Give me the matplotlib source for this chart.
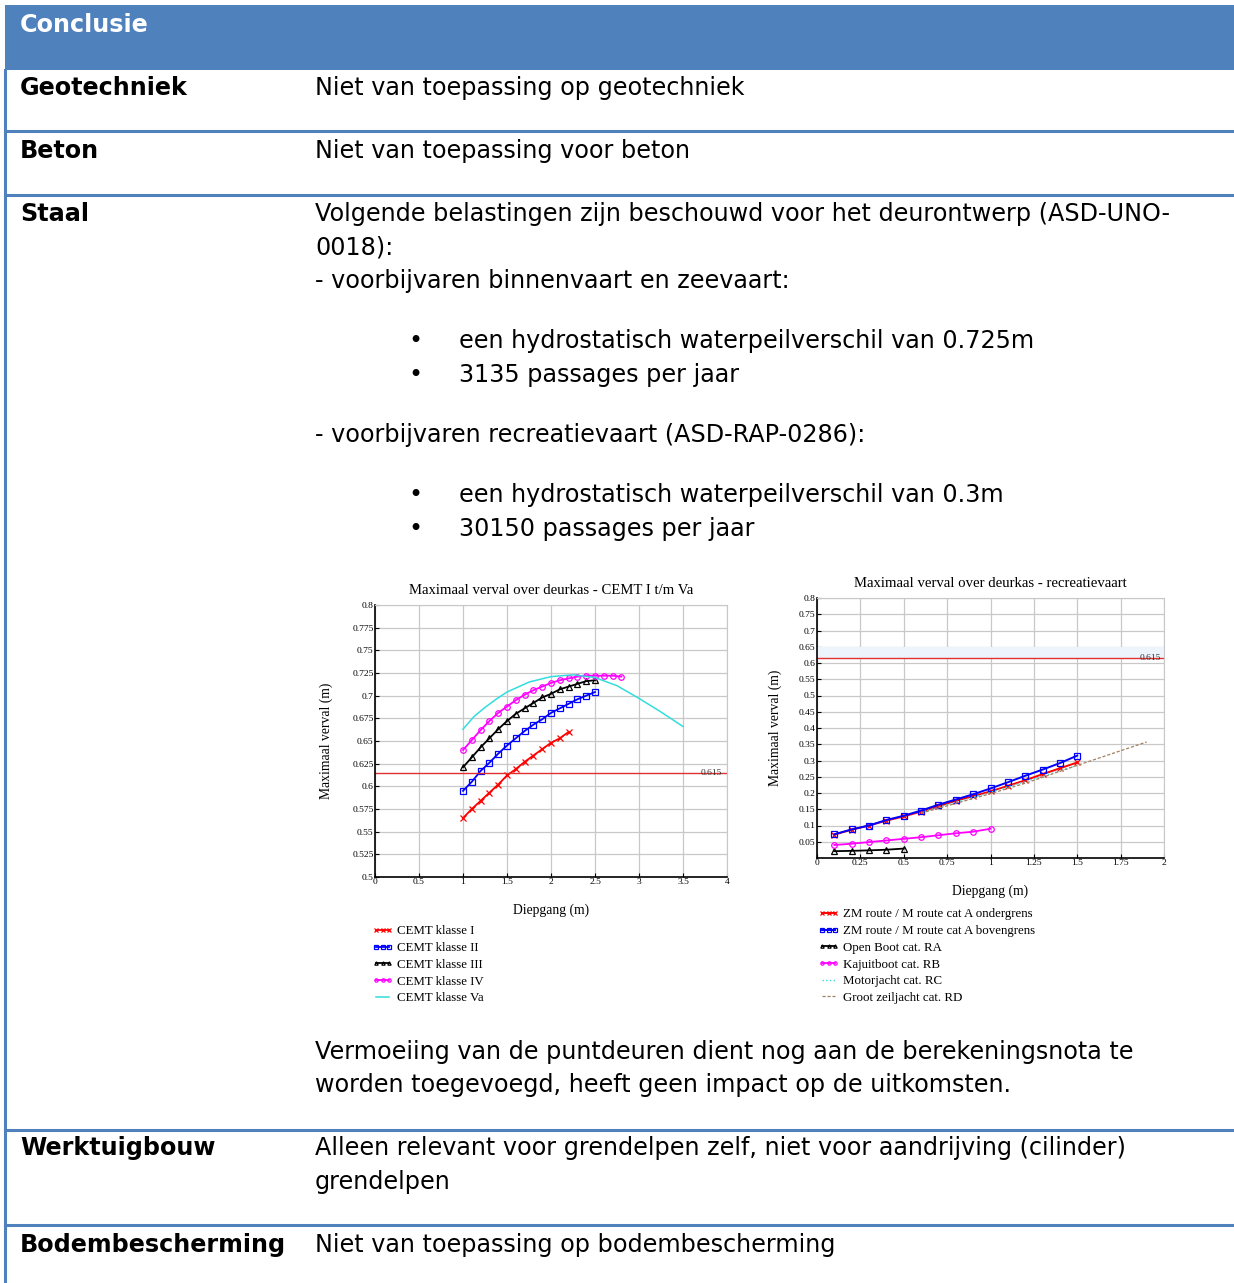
import matplotlib.pyplot as plt
import matplotlib.patches as mpatches

W, H = 1234, 1283
BLUE = '#4F81BD'

# --- left chart: CEMT classes (diepgang in m, verval in m)
cemt_x1 = [1.0, 1.1, 1.2, 1.3, 1.4, 1.5, 1.6, 1.7, 1.8, 1.9, 2.0, 2.1, 2.2]
cemt_y1 = [0.565, 0.575, 0.584, 0.593, 0.602, 0.612, 0.619, 0.627, 0.634, 0.641, 0.648, 0.653, 0.660]
cemt_x2 = [1.0, 1.1, 1.2, 1.3, 1.4, 1.5, 1.6, 1.7, 1.8, 1.9, 2.0, 2.1, 2.2, 2.3, 2.4, 2.5]
cemt_y2 = [0.595, 0.605, 0.617, 0.626, 0.636, 0.645, 0.653, 0.661, 0.668, 0.674, 0.681, 0.686, 0.691, 0.696, 0.700, 0.704]
cemt_x3 = [1.0, 1.1, 1.2, 1.3, 1.4, 1.5, 1.6, 1.7, 1.8, 1.9, 2.0, 2.1, 2.2, 2.3, 2.4, 2.5]
cemt_y3 = [0.621, 0.632, 0.643, 0.653, 0.663, 0.672, 0.680, 0.686, 0.692, 0.698, 0.702, 0.707, 0.710, 0.713, 0.716, 0.717]
cemt_x4 = [1.0, 1.1, 1.2, 1.3, 1.4, 1.5, 1.6, 1.7, 1.8, 1.9, 2.0, 2.1, 2.2, 2.3, 2.4, 2.5, 2.6, 2.7, 2.8]
cemt_y4 = [0.640, 0.651, 0.662, 0.672, 0.681, 0.688, 0.695, 0.701, 0.706, 0.710, 0.714, 0.717, 0.719, 0.721,
           0.722, 0.722, 0.722, 0.722, 0.721]
cemt_x5 = [1.0, 1.125, 1.25, 1.375, 1.5, 1.75, 2.0, 2.25, 2.5, 2.75, 3.0, 3.25, 3.5]
cemt_y5 = [0.663, 0.677, 0.687, 0.696, 0.704, 0.715, 0.721, 0.723, 0.720, 0.711, 0.697, 0.682, 0.666]
cemt_labels = ['CEMT klasse I', 'CEMT klasse II', 'CEMT klasse III', 'CEMT klasse IV', 'CEMT klasse Va']

# --- right chart: recreatievaart
rec_xa = [0.1, 0.2, 0.3, 0.4, 0.5, 0.6, 0.7, 0.8, 0.9, 1.0, 1.1, 1.2, 1.3, 1.4, 1.5]
rec_ya_low = [0.072, 0.087, 0.100, 0.115, 0.128, 0.143, 0.159, 0.176, 0.190, 0.205, 0.222, 0.239, 0.258, 0.276, 0.294]
rec_ya_high = [0.073, 0.088, 0.100, 0.117, 0.130, 0.146, 0.164, 0.180, 0.196, 0.214, 0.233, 0.253, 0.272, 0.292, 0.315]
rec_x_ra = [0.1, 0.2, 0.3, 0.4, 0.5]
rec_y_ra = [0.021, 0.022, 0.0235, 0.0255, 0.029]
rec_x_rb = [0.1, 0.2, 0.3, 0.4, 0.5, 0.6, 0.7, 0.8, 0.9, 1.0]
rec_y_rb = [0.040, 0.044, 0.049, 0.054, 0.059, 0.064, 0.070, 0.076, 0.081, 0.090]
rec_x_rc = [0.6, 0.8, 1.0, 1.2, 1.4, 1.5]
rec_y_rc = [0.140, 0.172, 0.202, 0.235, 0.268, 0.285]
rec_x_rd = [0.6, 0.8, 1.0, 1.2, 1.5, 1.9]
rec_y_rd = [0.138, 0.168, 0.198, 0.230, 0.285, 0.357]
rec_labels = ['ZM route / M route cat A ondergrens', 'ZM route / M route cat A bovengrens',
              'Open Boot cat. RA', 'Kajuitboot cat. RB', 'Motorjacht cat. RC', 'Groot zeiljacht cat. RD']
limit = 0.615

# --- table text
rows = [('Geotechniek', 86), ('Beton', 149), ('Staal', 212), ('Werktuigbouw', 1146), ('Bodembescherming', 1243)]
body = [
    ('Niet van toepassing op geotechniek', 315, 86),
    ('Niet van toepassing voor beton', 315, 149),
    ('Volgende belastingen zijn beschouwd voor het deurontwerp (ASD-UNO-', 315, 212),
    ('0018):', 315, 245),
    ('- voorbijvaren binnenvaart en zeevaart:', 315, 279),
    ('een hydrostatisch waterpeilverschil van 0.725m', 459, 339),
    ('3135 passages per jaar', 459, 373),
    ('- voorbijvaren recreatievaart (ASD-RAP-0286):', 315, 433),
    ('een hydrostatisch waterpeilverschil van 0.3m', 459, 493),
    ('30150 passages per jaar', 459, 527),
    ('Vermoeiing van de puntdeuren dient nog aan de berekeningsnota te', 315, 1050),
    ('worden toegevoegd, heeft geen impact op de uitkomsten.', 315, 1083),
    ('Alleen relevant voor grendelpen zelf, niet voor aandrijving (cilinder)', 315, 1146),
    ('grendelpen', 315, 1180),
    ('Niet van toepassing op bodembescherming', 315, 1243),
]
bullets_y = [339, 373, 493, 527]
hlines_y = [131, 195, 1130, 1225]


def fx(x):
    return x / W


def fy(y):
    return 1 - y / H


def px_axes(fig, x0, y0, x1, y1):
    return fig.add_axes([fx(x0), fy(y1), (x1 - x0) / W, (y1 - y0) / H])


def style_axes(ax):
    ax.grid(True, color='#c8c8c8', linewidth=0.9)
    ax.set_axisbelow(True)
    for side in ['top', 'right']:
        ax.spines[side].set_color('#c8c8c8')
    for side in ['left', 'bottom']:
        ax.spines[side].set_linewidth(1.2)
    ax.tick_params(direction='in', length=3, labelsize=6.8, pad=1)
    for lab in ax.get_xticklabels() + ax.get_yticklabels():
        lab.set_family('Liberation Serif')


plt.rcParams['font.family'] = 'DejaVu Sans'
fig = plt.figure(figsize=(W / 100, H / 100), dpi=100)
FS = 17.2
DY = 2  # small downward nudge of the text baseline

# table frame
fig.patches.append(mpatches.Rectangle((fx(5), fy(70)), 1, 65 / H, transform=fig.transFigure,
                                      facecolor=BLUE, edgecolor='none'))
fig.lines.append(plt.Line2D([fx(5), fx(5)], [fy(70), 0], transform=fig.transFigure, color=BLUE, lw=2.2))
for y in hlines_y:
    fig.lines.append(plt.Line2D([fx(5), 1], [fy(y), fy(y)], transform=fig.transFigure, color=BLUE, lw=2.2))

fig.text(fx(20), fy(23 + DY), 'Conclusie', color='white', fontsize=FS, fontweight='bold', va='center')
for label, y in rows:
    fig.text(fx(20), fy(y + DY), label, fontsize=FS, fontweight='bold', va='center')
for s, x, y in body:
    fig.text(fx(x), fy(y + DY), s, fontsize=FS, va='center')
for y in bullets_y:
    fig.text(fx(415), fy(y + DY), '\u2022', fontsize=FS, va='center', ha='center')

serif = 'Liberation Serif'

# left chart
ax1 = px_axes(fig, 375, 605, 727, 877)
ax1.plot(cemt_x1, cemt_y1, '-x', color='red', ms=4.5, mew=0.9, lw=1.3, label=cemt_labels[0])
ax1.plot(cemt_x2, cemt_y2, '-s', color='blue', ms=4, mfc='none', mew=0.9, lw=1.3, label=cemt_labels[1])
ax1.plot(cemt_x3, cemt_y3, '-^', color='black', ms=4, mfc='none', mew=0.9, lw=1.3, label=cemt_labels[2])
ax1.plot(cemt_x4, cemt_y4, '-o', color='magenta', ms=4, mfc='none', mew=0.9, lw=1.3, label=cemt_labels[3])
ax1.plot(cemt_x5, cemt_y5, '-', color='#33dddd', lw=1.1, label=cemt_labels[4])
ax1.axhline(limit, color='#e03030', lw=1.0)
ax1.text(3.94, limit, '0.615', fontsize=6.8, family=serif, ha='right', va='center', color='#333333')
ax1.set_xlim(0, 4)
ax1.set_ylim(0.5, 0.8)
ax1.set_xticks([0, 0.5, 1, 1.5, 2, 2.5, 3, 3.5, 4])
ax1.set_xticklabels(['0', '0.5', '1', '1.5', '2', '2.5', '3', '3.5', '4'])
ax1.set_yticks([0.5 + 0.025 * i for i in range(13)])
ax1.set_yticklabels(['0.5', '0.525', '0.55', '0.575', '0.6', '0.625', '0.65', '0.675', '0.7', '0.725',
                     '0.75', '0.775', '0.8'])
style_axes(ax1)
ax1.set_title('Maximaal verval over deurkas - CEMT I t/m Va', fontsize=10.6, family=serif, pad=8)
ax1.set_xlabel('Diepgang (m)', fontsize=9.8, family=serif, labelpad=12)
ax1.set_ylabel('Maximaal verval (m)', fontsize=9.8, family=serif, labelpad=14)
ax1.legend(loc='upper left', bbox_to_anchor=(fx(366), fy(919)), bbox_transform=fig.transFigure,
           frameon=False, prop={'family': serif, 'size': 9.3}, numpoints=3, markerscale=0.6,
           handlelength=1.6, handletextpad=0.3, labelspacing=0.36, borderpad=0)

# right chart
ax2 = px_axes(fig, 817, 598, 1164, 858)
ax2.axhspan(0.615, 0.65, color='#eef4fb', lw=0)
ax2.plot(rec_xa, rec_ya_low, '-x', color='red', ms=4, mew=0.9, lw=1.4, label=rec_labels[0])
ax2.plot(rec_xa, rec_ya_high, '-s', color='blue', ms=4, mfc='none', mew=0.9, lw=1.4, label=rec_labels[1])
ax2.plot(rec_x_ra, rec_y_ra, '-^', color='black', ms=4, mfc='none', mew=0.9, lw=1.3, label=rec_labels[2])
ax2.plot(rec_x_rb, rec_y_rb, '-o', color='magenta', ms=4, mfc='none', mew=0.9, lw=1.3, label=rec_labels[3])
ax2.plot(rec_x_rc, rec_y_rc, ':', color='#33dddd', lw=1.0, label=rec_labels[4])
ax2.plot(rec_x_rd, rec_y_rd, '--', color='#a08060', lw=0.9, dashes=(2.5, 1.5), label=rec_labels[5])
ax2.axhline(limit, color='#e03030', lw=1.0)
ax2.text(1.98, limit, '0.615', fontsize=6.8, family=serif, ha='right', va='center', color='#333333')
ax2.set_xlim(0, 2)
ax2.set_ylim(0, 0.8)
ax2.set_xticks([0.25 * i for i in range(9)])
ax2.set_xticklabels(['0', '0.25', '0.5', '0.75', '1', '1.25', '1.5', '1.75', '2'])
ax2.set_yticks([0.05 * i for i in range(1, 17)])
ax2.set_yticklabels(['0.05', '0.1', '0.15', '0.2', '0.25', '0.3', '0.35', '0.4', '0.45', '0.5', '0.55',
                     '0.6', '0.65', '0.7', '0.75', '0.8'])
style_axes(ax2)
ax2.set_title('Maximaal verval over deurkas - recreatievaart', fontsize=10.6, family=serif, pad=8)
ax2.set_xlabel('Diepgang (m)', fontsize=9.8, family=serif, labelpad=12)
ax2.set_ylabel('Maximaal verval (m)', fontsize=9.8, family=serif, labelpad=12)
ax2.legend(loc='upper left', bbox_to_anchor=(fx(812), fy(902)), bbox_transform=fig.transFigure,
           frameon=False, prop={'family': serif, 'size': 9.3}, numpoints=3, markerscale=0.6,
           handlelength=1.6, handletextpad=0.3, labelspacing=0.36, borderpad=0)

fig.savefig('out.png', dpi=100)
